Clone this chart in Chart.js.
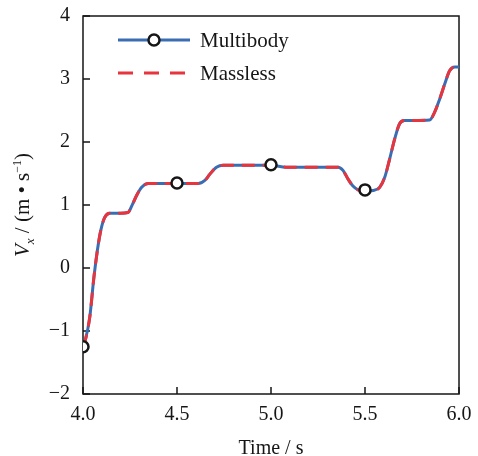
<!DOCTYPE html>
<html>
<head>
<meta charset="utf-8">
<script src="https://cdn.jsdelivr.net/npm/chart.js@4"></script>
<style>
  html, body { margin: 0; padding: 0; background: #fff; }
  canvas { display: block; }
</style>
</head>
<body>
<canvas id="chart" width="478" height="456"></canvas>
<script>
// Vx velocity over time
const timeValues = [4.0, 4.012, 4.036, 4.058, 4.076, 4.094, 4.115, 4.142, 4.2, 4.239, 4.26, 4.285, 4.312, 4.347,
    4.5, 4.613, 4.648, 4.675, 4.71, 4.746, 4.9, 5.0, 5.08, 5.357, 5.383, 5.41, 5.436, 5.463, 5.5, 5.543,
    5.578, 5.605, 5.631, 5.658, 5.684, 5.71, 5.844, 5.87, 5.897, 5.924, 5.95, 5.977, 6.0];
const multibodyValues = [-1.25, -1.15, -0.78, -0.15, 0.27, 0.59, 0.80, 0.87, 0.87, 0.88, 0.99, 1.15, 1.28, 1.34,
    1.34, 1.34, 1.39, 1.49, 1.60, 1.63, 1.63, 1.63, 1.60, 1.60, 1.55, 1.41, 1.30, 1.24, 1.22, 1.23,
    1.28, 1.44, 1.73, 2.05, 2.29, 2.34, 2.35, 2.47, 2.68, 2.92, 3.13, 3.19, 3.19];
const masslessValues = [-1.25, -1.15, -0.78, -0.15, 0.27, 0.59, 0.80, 0.87, 0.87, 0.88, 0.99, 1.15, 1.28, 1.34,
    1.34, 1.34, 1.39, 1.49, 1.60, 1.63, 1.63, 1.63, 1.60, 1.60, 1.55, 1.41, 1.30, 1.24, 1.22, 1.23,
    1.28, 1.44, 1.73, 2.05, 2.29, 2.34, 2.35, 2.47, 2.68, 2.92, 3.13, 3.19, 3.19];

// open circle markers on the multibody curve
const markerTimes = [4.0, 4.5, 5.0, 5.5];
const markerValues = [-1.25, 1.35, 1.64, 1.24];

const xTicks = [4.0, 4.5, 5.0, 5.5, 6.0];
const yTicks = [-2, -1, 0, 1, 2, 3, 4];

const seriesNames = ['Multibody', 'Massless'];
const xTitle = 'Time / s';

const BLUE = '#3b6db3';
const RED = '#e8343d';
const INK = '#161616';
const FONT = "'Liberation Serif', 'Times New Roman', serif";

function toPoints(xs, ys) {
    return xs.map((x, i) => ({ x: x, y: ys[i] }));
}

// frame, inward ticks, axis titles and legend are drawn by hand
const decorPlugin = {
    id: 'decor',
    beforeDatasetsDraw(chart) {
        const ctx = chart.ctx;
        const a = chart.chartArea;
        const xs = chart.scales.x, ys = chart.scales.y;
        ctx.save();
        ctx.strokeStyle = INK;
        ctx.lineWidth = 1.5;
        ctx.strokeRect(a.left, a.top, a.right - a.left, a.bottom - a.top);
        ctx.beginPath();
        xs.ticks.forEach(t => {
            const px = xs.getPixelForValue(t.value);
            ctx.moveTo(px, a.bottom);
            ctx.lineTo(px, a.bottom - 7);
        });
        ys.ticks.forEach(t => {
            const py = ys.getPixelForValue(t.value);
            ctx.moveTo(a.left, py);
            ctx.lineTo(a.left + 7, py);
        });
        ctx.stroke();
        ctx.restore();
    },
    afterDraw(chart) {
        const ctx = chart.ctx;
        const a = chart.chartArea;
        ctx.save();
        ctx.fillStyle = INK;

        // x title
        ctx.font = '20px ' + FONT;
        ctx.textAlign = 'center';
        ctx.textBaseline = 'alphabetic';
        ctx.fillText(xTitle, (a.left + a.right) / 2, 454);

        // y title: V_x / (m • s^-1), rotated
        const parts = [
            { t: 'V', f: 'italic 21px ' + FONT, dy: 0 },
            { t: 'x', f: 'italic 13px ' + FONT, dy: 5 },
            { t: ' / (m • s', f: '21px ' + FONT, dy: 0 },
            { t: '\u22121', f: '12px ' + FONT, dy: -8 },
            { t: ')', f: '21px ' + FONT, dy: 0 }
        ];
        let total = 0;
        parts.forEach(p => { ctx.font = p.f; p.w = ctx.measureText(p.t).width; total += p.w; });
        ctx.translate(22, (a.top + a.bottom) / 2);
        ctx.rotate(-Math.PI / 2);
        ctx.textAlign = 'left';
        let cx = -total / 2;
        parts.forEach(p => {
            ctx.font = p.f;
            ctx.fillText(p.t, cx, 7 + p.dy);
            cx += p.w;
        });
        ctx.setTransform(1, 0, 0, 1, 0, 0);

        // legend
        const lx0 = 118, lx1 = 190, tx = 200;
        const rows = [40, 73];
        ctx.lineWidth = 3;
        ctx.strokeStyle = BLUE;
        ctx.beginPath();
        ctx.moveTo(lx0, rows[0]);
        ctx.lineTo(lx1, rows[0]);
        ctx.stroke();
        ctx.beginPath();
        ctx.arc((lx0 + lx1) / 2, rows[0], 5.5, 0, Math.PI * 2);
        ctx.fillStyle = '#fff';
        ctx.fill();
        ctx.lineWidth = 2.5;
        ctx.strokeStyle = INK;
        ctx.stroke();

        ctx.lineWidth = 3;
        ctx.strokeStyle = RED;
        ctx.setLineDash([15, 11]);
        ctx.beginPath();
        ctx.moveTo(lx0, rows[1]);
        ctx.lineTo(lx1, rows[1]);
        ctx.stroke();
        ctx.setLineDash([]);

        ctx.fillStyle = INK;
        ctx.font = '21px ' + FONT;
        ctx.textAlign = 'left';
        ctx.textBaseline = 'middle';
        ctx.fillText(seriesNames[0], tx, rows[0] + 1);
        ctx.fillText(seriesNames[1], tx, rows[1] + 1);
        ctx.restore();
    }
};

new Chart(document.getElementById('chart'), {
    type: 'line',
    data: {
        datasets: [
            {
                // markers first so they sit on top
                label: 'Multibody markers',
                data: toPoints(markerTimes, markerValues),
                showLine: false,
                pointRadius: 5.5,
                pointBorderWidth: 2.5,
                pointBackgroundColor: '#fff',
                pointBorderColor: INK
            },
            {
                label: seriesNames[1],
                data: toPoints(timeValues, masslessValues),
                borderColor: RED,
                borderWidth: 3,
                borderDash: [13, 8],
                pointRadius: 0,
                cubicInterpolationMode: 'monotone'
            },
            {
                label: seriesNames[0],
                data: toPoints(timeValues, multibodyValues),
                borderColor: BLUE,
                borderWidth: 3,
                pointRadius: 0,
                cubicInterpolationMode: 'monotone'
            }
        ]
    },
    options: {
        responsive: false,
        animation: false,
        layout: { padding: { left: 0, top: 16, right: 19, bottom: 0 } },
        plugins: {
            legend: { display: false },
            tooltip: { enabled: false }
        },
        scales: {
            x: {
                type: 'linear',
                min: 4,
                max: 6,
                afterFit: s => { s.height = 62; s.paddingLeft = 0; s.paddingRight = 0; },
                afterBuildTicks: s => { s.ticks = xTicks.map(v => ({ value: v })); },
                grid: { display: false, drawTicks: false },
                border: { display: false },
                ticks: {
                    color: INK,
                    padding: 9,
                    maxRotation: 0,
                    font: { family: FONT, size: 20 },
                    callback: v => Number(v).toFixed(1)
                }
            },
            y: {
                type: 'linear',
                min: -2,
                max: 4,
                afterFit: s => { s.width = 83; s.paddingTop = 0; s.paddingBottom = 0; },
                afterBuildTicks: s => { s.ticks = yTicks.map(v => ({ value: v })); },
                grid: { display: false, drawTicks: false },
                border: { display: false },
                ticks: {
                    color: INK,
                    padding: 13,
                    font: { family: FONT, size: 20, lineHeight: 0.5 },
                    callback: v => String(v).replace('-', '\u2212')
                }
            }
        }
    },
    plugins: [decorPlugin]
});
</script>
</body>
</html>
